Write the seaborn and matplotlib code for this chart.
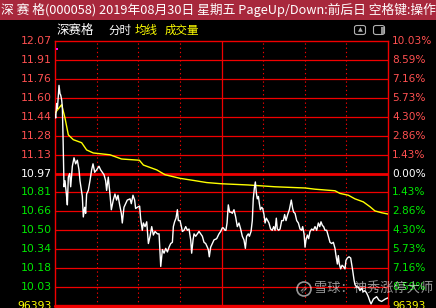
import numpy as np
import pandas as pd
import matplotlib
matplotlib.use("Agg")
import matplotlib.pyplot as plt
import matplotlib.transforms as mtransforms
from matplotlib.patches import Rectangle, Ellipse, FancyBboxPatch
import seaborn as sns

# ---------------- data ----------------
price_minutes = [0, 0.5, 1.2, 1.7, 2.2, 2.9, 3.6, 4.1, 4.8, 5.3, 5.8, 6.5, 7.2, 8.2, 8.9, 9.6, 10.6, 11.3,
                 12.5, 13.7, 14.9, 16.1, 17.3, 18.0, 19.0, 19.7, 20.4, 21.4, 22.1, 22.8, 24.0, 25.2, 26.4,
                 27.4, 28.6, 30.0, 31.7, 32.9, 34.1, 35.3, 36.5, 37.2, 38.4, 39.6, 40.6, 42.0, 43.2, 44.4,
                 45.4, 46.6, 47.8, 48.5, 49.7, 50.9, 52.1, 54.1, 55.0, 56.2, 57.4, 58.1, 59.3, 61.0, 61.7,
                 62.9, 63.7, 64.9, 66.1, 67.3, 68.5, 69.7, 70.9, 72.1, 73.8, 75.0, 75.7, 76.2, 77.4, 78.6,
                 79.8, 81.0, 82.2, 83.4, 84.6, 85.3, 86.2, 87.2, 88.2, 88.9, 90.1, 91.1, 91.8, 93.0, 94.2,
                 95.4, 96.6, 97.8, 98.5, 99.5, 100.2, 101.4, 102.6, 103.8, 105.0, 106.2, 107.4, 108.6,
                 109.8, 110.5, 111.2, 112.2, 113.4, 114.6, 116.5, 118.2, 119.4, 120.6, 121.3, 122.5,
                 123.2, 124.0, 124.9, 125.9, 126.9, 127.8, 129.0, 130.2, 131.4, 132.6, 133.8, 135.0,
                 136.2, 137.2, 138.1, 139.3, 140.1, 141.3, 142.2, 142.9, 143.7, 144.4, 145.1, 145.8,
                 146.6, 147.3, 148.0, 149.0, 149.7, 150.6, 151.4, 152.3, 153.3, 154.2, 155.4, 156.6,
                 157.6, 158.6, 159.5, 160.2, 161.2, 162.2, 163.4, 164.6, 165.5, 166.5, 167.7, 168.9,
                 169.6, 170.3, 171.3, 172.0, 173.0, 174.2, 175.4, 176.6, 177.8, 178.5, 179.5, 180.2,
                 180.9, 181.9, 182.8, 183.8, 185.0, 186.2, 187.4, 188.6, 189.8, 190.8, 191.7, 192.7,
                 193.6, 194.6, 195.8, 197.0, 198.2, 199.4, 200.6, 201.8, 202.5, 203.5, 204.2, 204.9,
                 205.9, 206.9, 207.8, 209.0, 209.7, 210.7, 211.9, 213.1, 213.8, 214.5, 215.5, 216.2,
                 217.4, 218.6, 219.8, 221.0, 222.2, 223.4, 224.6, 225.8, 227.0, 227.8, 229.5, 231.8,
                 233.5, 235.4, 238.0, 240.0]
price_values = [11.46, 11.43, 11.55, 11.51, 11.58, 11.70, 11.63, 11.62, 11.58, 11.52, 11.27, 10.86, 10.91,
                10.80, 10.71, 10.94, 10.97, 10.86, 11.03, 11.10, 11.05, 11.08, 11.00, 10.91, 10.83, 10.78,
                10.61, 10.69, 10.64, 10.80, 10.83, 10.91, 11.00, 11.05, 10.98, 11.00, 11.03, 11.00, 10.98,
                10.96, 10.91, 10.83, 10.94, 10.80, 10.67, 10.75, 10.80, 10.75, 10.79, 10.71, 10.64, 10.56,
                10.69, 10.72, 10.75, 10.76, 10.72, 10.79, 10.75, 10.68, 10.69, 10.70, 10.60, 10.50, 10.56,
                10.53, 10.57, 10.39, 10.45, 10.53, 10.46, 10.49, 10.47, 10.47, 10.31, 10.20, 10.34, 10.31,
                10.35, 10.32, 10.36, 10.39, 10.40, 10.53, 10.57, 10.60, 10.67, 10.58, 10.58, 10.53, 10.49,
                10.50, 10.53, 10.50, 10.51, 10.42, 10.31, 10.42, 10.47, 10.45, 10.47, 10.49, 10.47, 10.45,
                10.40, 10.39, 10.36, 10.34, 10.28, 10.36, 10.39, 10.42, 10.43, 10.47, 10.49, 10.52, 10.52,
                10.50, 10.50, 10.56, 10.71, 10.65, 10.65, 10.64, 10.67, 10.61, 10.53, 10.56, 10.51, 10.45,
                10.42, 10.35, 10.45, 10.47, 10.45, 10.49, 10.58, 10.76, 10.85, 10.90, 10.81, 10.76, 10.78,
                10.72, 10.67, 10.69, 10.68, 10.63, 10.56, 10.60, 10.58, 10.56, 10.51, 10.50, 10.53, 10.50,
                10.60, 10.51, 10.50, 10.51, 10.58, 10.58, 10.63, 10.58, 10.63, 10.67, 10.71, 10.75, 10.68,
                10.65, 10.64, 10.58, 10.56, 10.51, 10.50, 10.53, 10.47, 10.36, 10.42, 10.46, 10.43, 10.49,
                10.51, 10.50, 10.53, 10.50, 10.56, 10.53, 10.57, 10.54, 10.53, 10.50, 10.50, 10.45, 10.40,
                10.39, 10.40, 10.35, 10.29, 10.22, 10.29, 10.22, 10.18, 10.21, 10.20, 10.18, 10.25, 10.27,
                10.28, 10.27, 10.22, 10.17, 10.09, 10.05, 10.03, 10.03, 10.00, 10.02, 9.99, 10.00, 9.98,
                9.95, 9.91, 9.89, 9.93, 9.95, 9.92, 9.91, 9.93, 9.94]

avg_minutes = [0, 2, 4.8, 7.2, 9.6, 13.2, 19.2, 22.8, 27.6, 39.6, 48, 60.8, 63.7, 73.3, 79.3, 90.1,
               98.5, 109.3, 120, 139.3, 158.6, 180.2, 187.4, 201.8, 205.4, 211.4, 216.2, 222.2, 227,
               230.6, 235.4, 240]
avg_values = [11.47, 11.50, 11.54, 11.43, 11.29, 11.25, 11.225, 11.165, 11.14, 11.125, 11.09, 11.08,
              11.04, 11.00, 10.96, 10.93, 10.915, 10.895, 10.885, 10.875, 10.86, 10.85, 10.84, 10.827,
              10.805, 10.79, 10.76, 10.735, 10.695, 10.66, 10.645, 10.634]

signal_minute = [1.5]
signal_price = [12.00]

prev_close = 10.97
limit_up = 12.07
limit_down = 9.87
left_labels = ["12.07", "11.91", "11.76", "11.60", "11.44", "11.28", "11.13", "10.97",
               "10.81", "10.66", "10.50", "10.34", "10.18", "10.03"]
right_labels = ["10.03%", "8.59%", "7.16%", "5.73%", "4.30%", "2.86%", "1.43%", "0.00%",
                "1.43%", "2.86%", "4.30%", "5.73%", "7.16%", "8.59%"]
volume_label = "96393"
half_hours = [30, 60, 90, 120, 150, 180, 210]

header_text = "深 赛 格(000058) 2019年08月30日 星期五 PageUp/Down:前后日 空格键:操作"
sub_stock = "深赛格"
sub_items = ["分时", "均线", "成交量"]
watermark = "雪球：神秀涨停大师"

# ---------------- style ----------------
sns.set_theme(style="dark")
plt.rcParams["font.family"] = ["DejaVu Sans"]
CJK = ["Noto Sans CJK SC", "DejaVu Sans"]
RED = "#f00000"
LRED = "#ff5050"
GREEN = "#00e800"
YELLOW = "#ffff00"

W, H = 436, 308
fig = plt.figure(figsize=(W / 100, H / 100), dpi=100, facecolor="black")

top_px, bot_px, left_px, right_px = 40.7, 306.3, 55, 388
ax = fig.add_axes([left_px / W, 1 - bot_px / H, (right_px - left_px) / W, (bot_px - top_px) / H])
ax.set_facecolor("black")
ax.grid(False)

df_price = pd.DataFrame({"minute": price_minutes, "price": price_values})
df_avg = pd.DataFrame({"minute": avg_minutes, "price": avg_values})

levels = np.linspace(limit_up, limit_down, 15)
for i, lv in enumerate(levels[1:-1], start=1):
    ax.axhline(lv, color=RED, lw=2.0 if i == 7 else 0.9, zorder=1)
ax.axhline(limit_down, color=RED, lw=2.4, zorder=1, clip_on=False)
for m in half_hours:
    if m == 120:
        ax.axvline(m, color=RED, lw=0.9, zorder=1)
    else:
        ax.axvline(m, color=RED, lw=0.8, ls=(0, (1.2, 2.6)), zorder=1)

sns.lineplot(data=df_avg, x="minute", y="price", ax=ax, color=YELLOW, lw=1.0,
             estimator=None, sort=False, zorder=3)
sns.lineplot(data=df_price, x="minute", y="price", ax=ax, color="white", lw=1.0,
             estimator=None, sort=False, zorder=4)
ax.scatter(signal_minute, signal_price, s=4, marker="s", color="#ff00ff", zorder=5, linewidths=0)

ax.set_xlim(0, 240)
ax.set_ylim(limit_down, limit_up)
ax.set_xticks([])
ax.set_yticks([])
ax.set_xlabel("")
ax.set_ylabel("")
for side in ["left", "right", "top"]:
    ax.spines[side].set_color(RED)
    ax.spines[side].set_linewidth(1.0)
    ax.spines[side].set_visible(True)
ax.spines["bottom"].set_visible(False)

trans = mtransforms.blended_transform_factory(ax.transAxes, ax.transData)
px = 1.0 / (right_px - left_px)
for lv, lab in zip(levels[:-1], left_labels):
    c = LRED if lv > prev_close + 1e-6 else ("white" if abs(lv - prev_close) < 0.01 else GREEN)
    ax.text(-3 * px, lv, lab, transform=trans, ha="right", va="center", color=c, fontsize=7.8)
for lv, lab in zip(levels[:-1], right_labels):
    c = LRED if lv > prev_close + 1e-6 else ("white" if abs(lv - prev_close) < 0.01 else GREEN)
    ax.text(1 + 4 * px, lv, lab, transform=trans, ha="left", va="center", color=c, fontsize=7.6)
ax.text(-3 * px, limit_down, volume_label, transform=trans, ha="right", va="center",
        color=YELLOW, fontsize=7.8)
ax.text(1 + 4 * px, limit_down, volume_label, transform=trans, ha="left", va="center",
        color=YELLOW, fontsize=7.6)

# header bar
fig.patches.append(Rectangle((0, 1 - 19.5 / H), 1, 19.5 / H, transform=fig.transFigure,
                             facecolor="#a8283c", edgecolor="none", zorder=0))
fig.text(1 / W, 1 - 9.8 / H, header_text, color="white", fontsize=9.2, family=CJK,
         ha="left", va="center")

# sub header
fig.text(57 / W, 1 - 30.5 / H, sub_stock, color="white", fontsize=9.0, family=CJK,
         ha="left", va="center")
fig.text(108 / W, 1 - 30.5 / H, sub_items[0], color="white", fontsize=8.3, family=CJK,
         ha="left", va="center")
fig.text(135 / W, 1 - 30.5 / H, sub_items[1], color=YELLOW, fontsize=8.3, family=CJK,
         ha="left", va="center")
fig.text(165 / W, 1 - 30.5 / H, sub_items[2], color=YELLOW, fontsize=8.3, family=CJK,
         ha="left", va="center")

# small icons
for x0 in (354.5, 373.5):
    fig.patches.append(FancyBboxPatch((x0 / W, 1 - 34.5 / H), 11 / W, 9 / H,
                                      boxstyle="round,pad=0,rounding_size=0.006",
                                      transform=fig.transFigure, facecolor="none",
                                      edgecolor="#b0b0b0", lw=0.8))
fig.text(360 / W, 1 - 30 / H, "▲", color="#b0b0b0", fontsize=4.5, ha="center", va="center")
fig.patches.append(Rectangle((380.5 / W, 1 - 33.5 / H), 3 / W, 7 / H, transform=fig.transFigure,
                             facecolor="#909090", edgecolor="none"))

# watermark
fig.patches.append(Ellipse((304 / W, 1 - 289 / H), 14 / W, 14 / H, transform=fig.transFigure,
                           facecolor="none", edgecolor="white", alpha=0.6, lw=1.2))
fig.text(304 / W, 1 - 289 / H, "≈", color="white", alpha=0.6, fontsize=8, ha="center",
         va="center", rotation=45)
fig.text(314 / W, 1 - 289 / H, watermark, color="white", alpha=0.6, fontsize=9.5,
         family=CJK, ha="left", va="center")

fig.savefig("out.png", dpi=100, facecolor="black")
